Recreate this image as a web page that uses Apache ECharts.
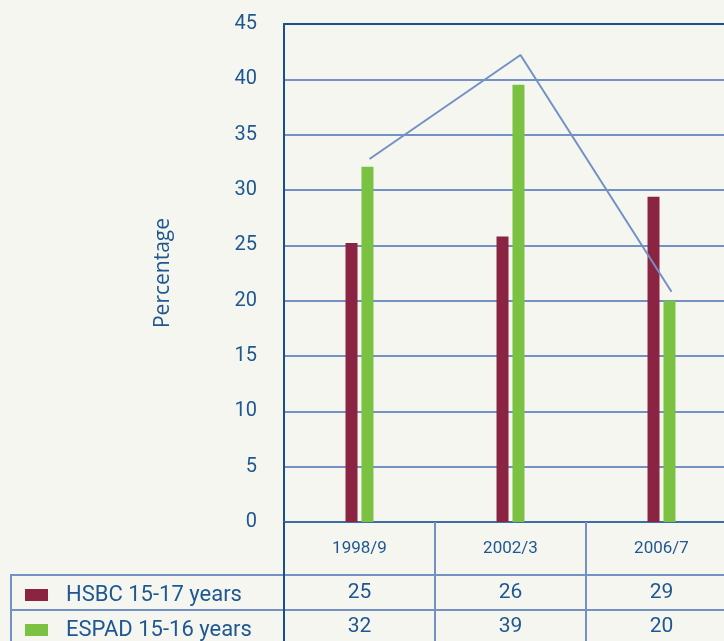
<!DOCTYPE html>
<html>
<head>
<meta charset="utf-8">
<script src="https://cdn.jsdelivr.net/npm/echarts@6/dist/echarts.min.js"></script>
<style>
html,body{margin:0;padding:0;background:#f6f6f1;}
#chart{width:724px;height:641px;}
</style>
</head>
<body>
<div id="chart"></div>
<script>
// ---- data ----
const categories = ['1998/9', '2002/3', '2006/7'];
const hsbcName = 'HSBC 15-17 years';
const espadName = 'ESPAD 15-16 years';
const hsbcValues = [25.2, 25.8, 29.4];
const espadValues = [32.1, 39.5, 20.0];
const hsbcTable = [25, 26, 29];
const espadTable = [32, 39, 20];
const trendValues = [32.8, 42.2, 20.8];
const yTicks = [0, 5, 10, 15, 20, 25, 30, 35, 40, 45];

// ---- styles ----
const red = '#8b2443';
const green = '#7bc142';
const gridBlue = '#7391c2';
const darkBlue = '#1b4f8c';
const textBlue = '#1f5890';
const din = 'Roboto, "DejaVu Sans", sans-serif';

const chart = echarts.init(document.getElementById('chart'));

const hiddenAxis = {
  axisLine: {show: false}, axisTick: {show: false},
  axisLabel: {show: false}, splitLine: {show: false}
};

chart.setOption({
  backgroundColor: '#f6f6f1',
  animation: false,
  grid: [
    {left: 284, width: 453, top: 24, bottom: 119, outerBoundsMode: 'none', containLabel: false},
    {left: 294, width: 453, top: 24, bottom: 119, outerBoundsMode: 'none', containLabel: false}
  ],
  legend: {
    orient: 'vertical',
    left: 25, top: 584, padding: 0,
    itemWidth: 23, itemHeight: 12, itemGap: 13,
    icon: 'rect',
    selectedMode: false,
    data: [hsbcName, espadName],
    textStyle: {fontFamily: din, fontSize: 22, color: textBlue, lineHeight: 22, padding: [0, 0, 0, 13]}
  },
  xAxis: [
    {
      type: 'category', gridIndex: 0, data: categories, position: 'bottom',
      axisLine: {lineStyle: {color: '#3a6ea5', width: 2}},
      axisTick: {show: true, length: 119, lineStyle: {color: gridBlue, width: 2}},
      axisLabel: {fontFamily: din, fontSize: 17, color: textBlue, margin: 27, verticalAlign: 'middle'},
      splitLine: {show: false}
    },
    {
      type: 'category', gridIndex: 0, data: categories, position: 'bottom', offset: 54,
      axisLine: {show: false}, axisTick: {show: false},
      axisLabel: {fontFamily: din, fontSize: 21, color: textBlue, margin: 17, verticalAlign: 'middle',
        formatter: (v, i) => String(hsbcTable[i])}
    },
    {
      type: 'category', gridIndex: 0, data: categories, position: 'bottom', offset: 88,
      axisLine: {show: false}, axisTick: {show: false},
      axisLabel: {fontFamily: din, fontSize: 21, color: textBlue, margin: 17, verticalAlign: 'middle',
        formatter: (v, i) => String(espadTable[i])}
    },
    {
      type: 'category', gridIndex: 0, data: categories, position: 'top',
      axisLine: {show: true, lineStyle: {color: darkBlue, width: 2}},
      axisTick: {show: false}, axisLabel: {show: false}
    },
    Object.assign({type: 'category', gridIndex: 1, data: categories}, hiddenAxis)
  ],
  yAxis: [
    {
      type: 'value', gridIndex: 0, min: yTicks[0], max: yTicks[yTicks.length - 1], interval: 5,
      name: 'Percentage', nameLocation: 'middle', nameGap: 110, nameRotate: 90,
      nameTextStyle: {fontFamily: '"Open Sans", "Noto Sans", sans-serif', fontSize: 21, color: textBlue},
      axisLine: {show: true, lineStyle: {color: darkBlue, width: 2}},
      axisTick: {show: false},
      axisLabel: {fontFamily: din, fontSize: 20, color: textBlue, margin: 27},
      splitLine: {lineStyle: {color: gridBlue, width: 2}}
    },
    Object.assign({type: 'value', gridIndex: 1, min: yTicks[0], max: yTicks[yTicks.length - 1], interval: 5}, hiddenAxis)
  ],
  series: [
    {
      name: hsbcName, type: 'bar', xAxisIndex: 0, yAxisIndex: 0,
      data: hsbcValues, barWidth: 12, barGap: '33%',
      itemStyle: {color: red}
    },
    {
      name: espadName, type: 'bar', xAxisIndex: 0, yAxisIndex: 0,
      data: espadValues, barWidth: 12, barGap: '33%',
      itemStyle: {color: green}
    },
    {
      name: 'trend', type: 'line', xAxisIndex: 4, yAxisIndex: 1,
      data: trendValues, symbol: 'none',
      lineStyle: {color: gridBlue, width: 2}
    }
  ],
  graphic: [
    {type: 'line', shape: {x1: 284, y1: 522, x2: 284, y2: 641}, style: {stroke: darkBlue, lineWidth: 2}, z: 100},
    {type: 'line', shape: {x1: 11, y1: 575, x2: 724, y2: 575}, style: {stroke: gridBlue, lineWidth: 2}, z: 90},
    {type: 'line', shape: {x1: 11, y1: 610, x2: 724, y2: 610}, style: {stroke: gridBlue, lineWidth: 2}, z: 90},
    {type: 'line', shape: {x1: 11, y1: 574, x2: 11, y2: 641}, style: {stroke: gridBlue, lineWidth: 2}, z: 90}
  ]
});
</script>
</body>
</html>
